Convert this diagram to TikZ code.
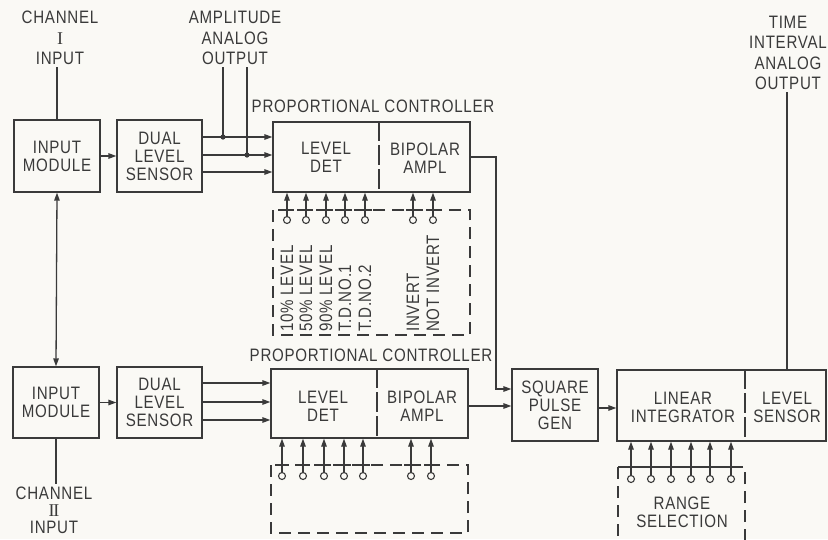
\documentclass[tikz,border=0pt]{standalone}
\usepackage{fontspec}
\setmainfont{Liberation Sans}[FakeStretch=0.84, LetterSpace=4]
\newfontfamily\serifnum{Liberation Serif}[LetterSpace=-8]
\usetikzlibrary{arrows.meta,calc}
\definecolor{ink}{HTML}{3A3A3A}
\definecolor{paper}{HTML}{FAF9F5}
\begin{document}
\begin{tikzpicture}[x=1pt,y=-1pt,
  ln/.style={line width=1.3pt, draw=ink},
  arr/.style={ln, -{Triangle[length=8pt,width=5.5pt]}},
  dbl/.style={ln, {Triangle[length=8pt,width=5.5pt]}-{Triangle[length=8pt,width=5.5pt]}},
  blk/.style={draw=ink, line width=1.3pt, align=center, text=ink, inner sep=0pt,
    font=\fontsize{18}{18}\selectfont},
  txt/.style={align=center, text=ink, inner sep=2pt, font=\fontsize{18}{18}\selectfont},
  lbl/.style={align=center, text=ink, inner sep=2pt, font=\fontsize{18}{20.5}\selectfont},
  rot/.style={rotate=90, anchor=west, text=ink, inner sep=0pt, font=\fontsize{18}{18}\selectfont},
  cir/.style={circle, draw=ink, line width=1.1pt, fill=paper, minimum size=7pt, inner sep=0pt},
  dsh/.style={ln, dash pattern=on 12pt off 7pt},
  dvd/.style={ln, dash pattern=on 20pt off 4pt}
]
\fill[paper] (0,0) rectangle (828,539);
\useasboundingbox (0,0) rectangle (828,539);

% ---------- top labels ----------
\node[lbl] (ch1) at (60,38) {CHANNEL\\{\serifnum I}\\INPUT};
\node[lbl] (amp) at (235,38) {AMPLITUDE\\ANALOG\\OUTPUT};
\node[lbl] (tia) at (788,53) {TIME\\INTERVAL\\ANALOG\\OUTPUT};

% ---------- channel I ----------
\node[blk, minimum width=86pt, minimum height=72pt] (in1) at (57,156) {INPUT\\MODULE};
\node[blk, minimum width=85pt, minimum height=72pt] (ds1) at (159.5,156) {DUAL\\LEVEL\\SENSOR};
\node[txt] (pcl1) at (373,106) {PROPORTIONAL CONTROLLER};
\node[blk, minimum width=197pt, minimum height=70pt] (pc1) at (371.5,157) {};
\node[txt] (ld1) at (326,157) {LEVEL\\DET};
\node[txt] (ba1) at (425,158) {BIPOLAR\\AMPL};
\coordinate (dv1) at (379,0);
\draw[dvd] (dv1 |- pc1.north) -- (dv1 |- pc1.south);

\draw[ln] (in1.north) -- (in1.north |- ch1.south);
\draw[arr] (in1.east) -- (ds1.west);
\coordinate (y1a) at (0,137);
\coordinate (y1b) at (0,155);
\coordinate (y1c) at (0,172);
\draw[arr] (ds1.east |- y1a) -- (pc1.west |- y1a);
\draw[arr] (ds1.east |- y1b) -- (pc1.west |- y1b);
\draw[arr] (ds1.east |- y1c) -- (pc1.west |- y1c);
\coordinate (dotA) at (223,137);
\coordinate (dotB) at (247,155);
\fill[ink] (dotA) circle (2.6pt);
\fill[ink] (dotB) circle (2.6pt);
\draw[ln] (dotA) -- (dotA |- amp.south);
\draw[ln] (dotB) -- (dotB |- amp.south);

% switches under top controller
\draw[dsh] (273,210) rectangle (470,335);
\foreach \x [count=\i] in {287,306,326,345,365,413,433}{
  \node[cir] (a\i) at (\x,220) {};
  \draw[arr] (a\i.north) -- (a\i.north |- pc1.south);
  \draw[ln] (\x-7,210) -- (\x+7,210);
}
\foreach \x/\t in {287/10\% LEVEL, 306/50\% LEVEL, 326/90\% LEVEL, 345/T.D.NO.1, 365/T.D.NO.2, 413/INVERT, 433/NOT INVERT}{
  \node[rot] at (\x,332) {\t};
}

% ---------- channel II ----------
\node[blk, minimum width=86pt, minimum height=71pt] (in2) at (56,402.5) {INPUT\\MODULE};
\node[blk, minimum width=85pt, minimum height=71pt] (ds2) at (159.5,402.5) {DUAL\\LEVEL\\SENSOR};
\node[txt] (pcl2) at (371,355) {PROPORTIONAL CONTROLLER};
\node[blk, minimum width=197pt, minimum height=69pt] (pc2) at (369.5,403.5) {};
\node[txt] (ld2) at (323,406) {LEVEL\\DET};
\node[txt] (ba2) at (422,406) {BIPOLAR\\AMPL};
\coordinate (dv2) at (377,0);
\draw[dvd] (dv2 |- pc2.north) -- (dv2 |- pc2.south);
\node[lbl] (ch2) at (54,510) {CHANNEL\\[-3.5pt]{\serifnum II}\\[-3.5pt]INPUT};

\draw[dbl] (in1.south) -- (in2.north);
\draw[ln] (in2.south) -- (in2.south |- ch2.north);
\draw[arr] (in2.east) -- (ds2.west);
\coordinate (y2a) at (0,383);
\coordinate (y2b) at (0,402);
\coordinate (y2c) at (0,420);
\draw[arr] (ds2.east |- y2a) -- (pc2.west |- y2a);
\draw[arr] (ds2.east |- y2b) -- (pc2.west |- y2b);
\draw[arr] (ds2.east |- y2c) -- (pc2.west |- y2c);

\draw[dsh] (271,465) rectangle (468,533);
\foreach \x [count=\i] in {282,303,324,344,363,411,431}{
  \node[cir] (b\i) at (\x,476) {};
  \draw[arr] (b\i.north) -- (b\i.north |- pc2.south);
  \draw[ln] (\x-7,465) -- (\x+7,465);
}

% ---------- square pulse & integrator ----------
\node[blk, minimum width=86pt, minimum height=72pt] (sq) at (555,405) {SQUARE\\PULSE\\GEN};
\node[blk, minimum width=209pt, minimum height=71pt] (li) at (721.5,405.5) {};
\node[txt] (lit) at (683,407) {LINEAR\\INTEGRATOR};
\node[txt] (lst) at (787,407) {LEVEL\\SENSOR};
\coordinate (dv3) at (745,0);
\draw[dvd] (dv3 |- li.north) -- (dv3 |- li.south);

\coordinate (ya) at (0,157);
\coordinate (yb) at (0,389);
\coordinate (xr) at (496,0);
\draw[arr] (pc1.east |- ya) -- (xr |- ya) -- (xr |- yb) -- (sq.west |- yb);
\coordinate (yc) at (0,406);
\draw[arr] (pc2.east |- yc) -- (sq.west |- yc);
\coordinate (yd) at (0,408);
\draw[arr] (sq.east |- yd) -- (li.west |- yd);
\coordinate (xt) at (787,0);
\draw[ln] (xt |- li.north) -- (xt |- tia.south);

\draw[dsh] (618,467) rectangle (745,545);
\foreach \x [count=\i] in {631,651,671,691,710,731}{
  \node[cir] (c\i) at (\x,479) {};
  \draw[arr] (c\i.north) -- (c\i.north |- li.south);
  \draw[ln] (\x-7,467) -- (\x+7,467);
}
\node[txt] (rs) at (682,512) {RANGE\\SELECTION};
\end{tikzpicture}
\end{document}
